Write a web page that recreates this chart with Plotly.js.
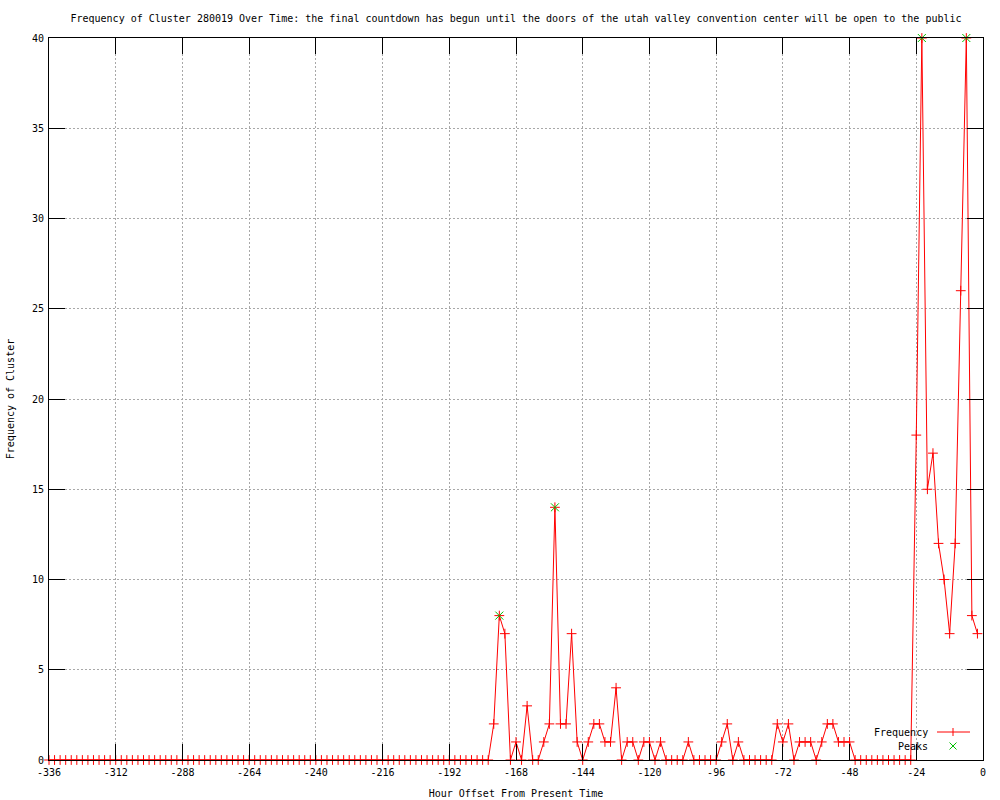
<!DOCTYPE html>
<html>
<head>
<meta charset="utf-8">
<script src="https://cdn.plot.ly/plotly-3.0.1.min.js"></script>
<style>html,body{margin:0;padding:0;background:#fff;}#chart{width:1000px;height:800px;}</style>
</head>
<body>
<div id="chart"></div>
<script>
// Hour offsets: every 2 hours from -336 to -2
const hours = [
 -336,-334,-332,-330,-328,-326,-324,-322,-320,-318,-316,-314,-312,-310,-308,-306,-304,-302,-300,-298,
 -296,-294,-292,-290,-288,-286,-284,-282,-280,-278,-276,-274,-272,-270,-268,-266,-264,-262,-260,-258,
 -256,-254,-252,-250,-248,-246,-244,-242,-240,-238,-236,-234,-232,-230,-228,-226,-224,-222,-220,-218,
 -216,-214,-212,-210,-208,-206,-204,-202,-200,-198,-196,-194,-192,-190,-188,-186,-184,-182,-180,-178,
 -176,-174,-172,-170,-168,-166,-164,-162,-160,-158,-156,-154,-152,-150,-148,-146,-144,-142,-140,-138,
 -136,-134,-132,-130,-128,-126,-124,-122,-120,-118,-116,-114,-112,-110,-108,-106,-104,-102,-100,-98,
 -96,-94,-92,-90,-88,-86,-84,-82,-80,-78,-76,-74,-72,-70,-68,-66,-64,-62,-60,-58,
 -56,-54,-52,-50,-48,-46,-44,-42,-40,-38,-36,-34,-32,-30,-28,-26,-24,-22,-20,-18,
 -16,-14,-12,-10,-8,-6,-4,-2
];
const frequency = [
 0,0,0,0,0,0,0,0,0,0,0,0,0,0,0,0,0,0,0,0,
 0,0,0,0,0,0,0,0,0,0,0,0,0,0,0,0,0,0,0,0,
 0,0,0,0,0,0,0,0,0,0,0,0,0,0,0,0,0,0,0,0,
 0,0,0,0,0,0,0,0,0,0,0,0,0,0,0,0,0,0,0,0,
 2,8,7,0,1,0,3,0,0,1,2,14,2,2,7,1,0,1,2,2,
 1,1,4,0,1,1,0,1,1,0,1,0,0,0,0,1,0,0,0,0,
 0,1,2,0,1,0,0,0,0,0,0,2,1,2,0,1,1,1,0,1,
 2,2,1,1,1,0,0,0,0,0,0,0,0,0,0,0,18,40,15,17,
 12,10,7,12,26,40,8,7
];
const peakHours = [-174, -154, -22, -6];
const peakValues = [8, 14, 40, 40];

const xTickVals = [-336,-312,-288,-264,-240,-216,-192,-168,-144,-120,-96,-72,-48,-24,0];
const xTickText = ['-336','-312','-288','-264','-240','-216','-192','-168','-144','-120','-96','-72','-48','-24','0'];
const yTickVals = [0,5,10,15,20,25,30,35,40];

const titleText = 'Frequency of Cluster 280019 Over Time: the final countdown has begun until the doors of the utah valley convention center will be open to the public';
const xTitle = 'Hour Offset From Present Time';
const yTitle = 'Frequency of Cluster';
const seriesNames = ['Frequency', 'Peaks'];

const FONT = 'DejaVu Sans Mono, Liberation Mono, monospace';
const RED = '#ff0000';
const GREEN = '#00c000';

const traces = [
  {
    x: hours, y: frequency, type: 'scatter', mode: 'lines+markers', name: seriesNames[0],
    line: {color: RED, width: 1},
    marker: {symbol: 'cross-thin-open', size: 7, color: RED, line: {color: RED, width: 1}},
    cliponaxis: false, showlegend: false
  },
  {
    x: peakHours, y: peakValues, type: 'scatter', mode: 'markers', name: seriesNames[1],
    marker: {symbol: 'x-thin-open', size: 8, color: GREEN, line: {color: GREEN, width: 1}},
    cliponaxis: false, showlegend: false
  }
];

const axisCommon = {
  showline: true, linecolor: '#000', linewidth: 1, mirror: 'ticks',
  ticks: 'inside', ticklen: 16, tickwidth: 1, tickcolor: '#000',
  showgrid: true, gridcolor: '#a8a8a8', griddash: '2px,2px', gridwidth: 1,
  zeroline: false, tickfont: {family: FONT, size: 10, color: '#000'}
};

const layout = {
  width: 1000, height: 800,
  paper_bgcolor: '#fff', plot_bgcolor: '#fff',
  margin: {l: 49, r: 17, t: 38, b: 40},
  font: {family: FONT, size: 10, color: '#000'},
  title: {text: titleText, font: {family: FONT, size: 10, color: '#000'},
          x: 0.5, xref: 'paper', xanchor: 'center', y: 1 - 18/800, yref: 'container', yanchor: 'middle'},
  xaxis: Object.assign({}, axisCommon, {
    range: [-336, 0], tickmode: 'array', tickvals: xTickVals, ticktext: xTickText,
    ticklabelstandoff: 3,
    title: {text: xTitle, font: {family: FONT, size: 10, color: '#000'}, standoff: 12}
  }),
  yaxis: Object.assign({}, axisCommon, {
    range: [0, 40], tickmode: 'array', tickvals: yTickVals,
    ticklabelstandoff: 2,
    title: {text: yTitle, font: {family: FONT, size: 10, color: '#000'}, standoff: 15}
  }),
  showlegend: false,
  annotations: [
    {text: seriesNames[0], xref: 'paper', yref: 'paper', x: (930-49)/934, y: (760-732)/722,
     xanchor: 'right', yanchor: 'middle', showarrow: false, font: {family: FONT, size: 10, color: '#000'}},
    {text: seriesNames[1], xref: 'paper', yref: 'paper', x: (930-49)/934, y: (760-746)/722,
     xanchor: 'right', yanchor: 'middle', showarrow: false, font: {family: FONT, size: 10, color: '#000'}}
  ],
  shapes: [
    {type: 'line', xref: 'paper', yref: 'paper', xsizemode: 'pixel', ysizemode: 'pixel',
     xanchor: (953-49)/934, yanchor: (760-732)/722, x0: -16, x1: 17, y0: 0, y1: 0,
     line: {color: RED, width: 1}},
    {type: 'line', xref: 'paper', yref: 'paper', xsizemode: 'pixel', ysizemode: 'pixel',
     xanchor: (953-49)/934, yanchor: (760-732)/722, x0: 0, x1: 0, y0: -4, y1: 4,
     line: {color: RED, width: 1}},
    {type: 'line', xref: 'paper', yref: 'paper', xsizemode: 'pixel', ysizemode: 'pixel',
     xanchor: (953-49)/934, yanchor: (760-746)/722, x0: -3.5, x1: 3.5, y0: -3.5, y1: 3.5,
     line: {color: GREEN, width: 1}},
    {type: 'line', xref: 'paper', yref: 'paper', xsizemode: 'pixel', ysizemode: 'pixel',
     xanchor: (953-49)/934, yanchor: (760-746)/722, x0: -3.5, x1: 3.5, y0: 3.5, y1: -3.5,
     line: {color: GREEN, width: 1}}
  ]
};

Plotly.newPlot('chart', traces, layout, {displayModeBar: false, staticPlot: true});
</script>
</body>
</html>
